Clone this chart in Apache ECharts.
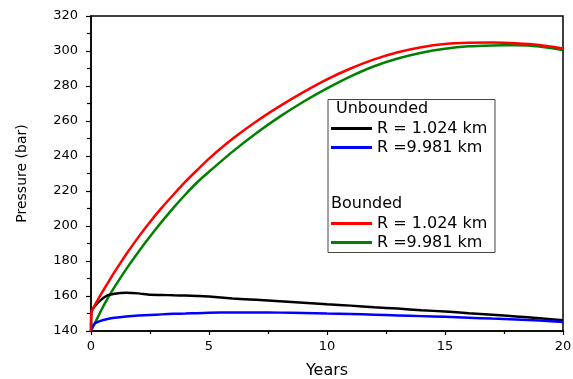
<!DOCTYPE html>
<html>
<head>
<meta charset="utf-8">
<script src="https://cdn.jsdelivr.net/npm/echarts@6/dist/echarts.min.js"></script>
<style>
html,body{margin:0;padding:0;background:#fff;}
#chart{width:573px;height:379px;}
</style>
</head>
<body>
<div id="chart"></div>
<script>
// ---- data ----
var years = [0, 0.02, 0.15, 0.4, 0.7, 1, 1.5, 2, 2.5, 3, 3.5, 4, 4.5, 5, 6, 7, 8, 9, 10, 11, 12, 13, 14, 15, 16, 17, 18, 19, 20];
var unboundedR1 = [140, 151, 154, 157.5, 160.3, 161.3, 161.8, 161.5, 160.7, 160.6, 160.4, 160.3, 160, 159.7, 158.6, 157.8, 157, 156.2, 155.3, 154.5, 153.6, 152.8, 151.9, 151.1, 150.2, 149.3, 148.3, 147.3, 146.2];
var unboundedR2 = [140, 141.5, 144.2, 145.8, 146.9, 147.6, 148.3, 148.8, 149.2, 149.5, 149.8, 150, 150.2, 150.4, 150.6, 150.6, 150.5, 150.3, 150, 149.7, 149.3, 148.9, 148.5, 148.1, 147.6, 147.1, 146.6, 146, 145.2];
var boundedR1 = [140, 151, 154.5, 160.5, 167.2, 173.8, 184, 193.5, 202.3, 210.5, 218, 225.3, 232, 238.5, 249.8, 259.7, 268.5, 276.5, 283.8, 290, 295.2, 299.3, 302.2, 304, 304.7, 304.8, 304.4, 303.4, 301.5];
var boundedR2 = [140, 140.6, 144, 151, 158.5, 165.2, 175.5, 185, 194, 202.5, 210.5, 218, 225, 231, 242.5, 253, 262.5, 271, 278.6, 285.5, 291.3, 295.7, 299, 301.3, 302.7, 303.2, 303.3, 302.6, 300.6];
var seriesNames = ['R = 1.024 km', 'R =9.981 km', 'R = 1.024 km ', 'R =9.981 km '];
var xTicks = [0, 5, 10, 15, 20];
var yRange = [140, 320];

function pairs(ys) { return years.map(function (x, i) { return [x, ys[i]]; }); }

var chart = echarts.init(document.getElementById('chart'), null, {renderer: 'canvas'});
var FONT = 'DejaVu Sans';
var colors = ['#000000', '#0000ff', '#ff0000', '#008000'];
var dataSets = [unboundedR1, unboundedR2, boundedR1, boundedR2];

var option = {
  animation: false,
  backgroundColor: '#ffffff',
  grid: {left: 91, top: 16, right: 10, bottom: 48, containLabel: false, outerBoundsMode: 'none', show: true, borderColor: '#000', borderWidth: 1.5, backgroundColor: 'transparent'},
  xAxis: {
    type: 'value', min: xTicks[0], max: xTicks[xTicks.length - 1], interval: 5,
    name: 'Years', nameLocation: 'middle', nameGap: 32,
    nameTextStyle: {fontFamily: FONT, fontSize: 16, color: '#000'},
    axisLine: {lineStyle: {color: '#000', width: 1.5}},
    axisTick: {show: true, inside: false, length: 4, lineStyle: {color: '#000', width: 1.2}},
    minorTick: {show: true, splitNumber: 2, length: 3, lineStyle: {color: '#000', width: 1.2}},
    axisLabel: {fontFamily: FONT, fontSize: 13, color: '#000', margin: 9},
    splitLine: {show: false}
  },
  yAxis: {
    type: 'value', min: yRange[0], max: yRange[1], interval: 20,
    name: 'Pressure (bar)', nameLocation: 'middle', nameGap: 62, nameRotate: 90,
    nameTextStyle: {fontFamily: FONT, fontSize: 14, color: '#000'},
    axisLine: {lineStyle: {color: '#000', width: 1.5}},
    axisTick: {show: true, inside: false, length: 5, lineStyle: {color: '#000', width: 1.2}},
    minorTick: {show: true, splitNumber: 2, length: 4, lineStyle: {color: '#000', width: 1.2}},
    axisLabel: {fontFamily: FONT, fontSize: 13, color: '#000', margin: 13},
    splitLine: {show: false}
  },
  legend: [
    {
      data: [seriesNames[0], seriesNames[1]], orient: 'vertical', left: 331, top: 120.5,
      itemWidth: 41, itemHeight: 3, itemGap: 3, icon: 'rect',
      textStyle: {fontFamily: FONT, fontSize: 16, color: '#000'},
      padding: 0
    },
    {
      data: [seriesNames[2], seriesNames[3]], orient: 'vertical', left: 331, top: 215.5,
      itemWidth: 41, itemHeight: 3, itemGap: 3, icon: 'rect',
      textStyle: {fontFamily: FONT, fontSize: 16, color: '#000'},
      padding: 0
    }
  ],
  graphic: [
    {type: 'rect', left: 325.5, top: 97, shape: {width: 167, height: 153}, style: {fill: 'none', stroke: '#444', lineWidth: 1}, z: 10},
    {type: 'text', left: 336, top: 101, style: {text: 'Unbounded', font: '16px "DejaVu Sans"', fill: '#000'}, z: 10},
    {type: 'text', left: 331, top: 196, style: {text: 'Bounded', font: '16px "DejaVu Sans"', fill: '#000'}, z: 10}
  ],
  series: dataSets.map(function (d, i) {
    return {
      name: seriesNames[i], type: 'line', data: pairs(d), showSymbol: false, symbol: 'none',
      smooth: 0.15, lineStyle: {color: colors[i], width: 2.5}, itemStyle: {color: colors[i]}, z: 3 + (i === 3 ? 0 : 1)
    };
  })
};
chart.setOption(option);
</script>
</body>
</html>
